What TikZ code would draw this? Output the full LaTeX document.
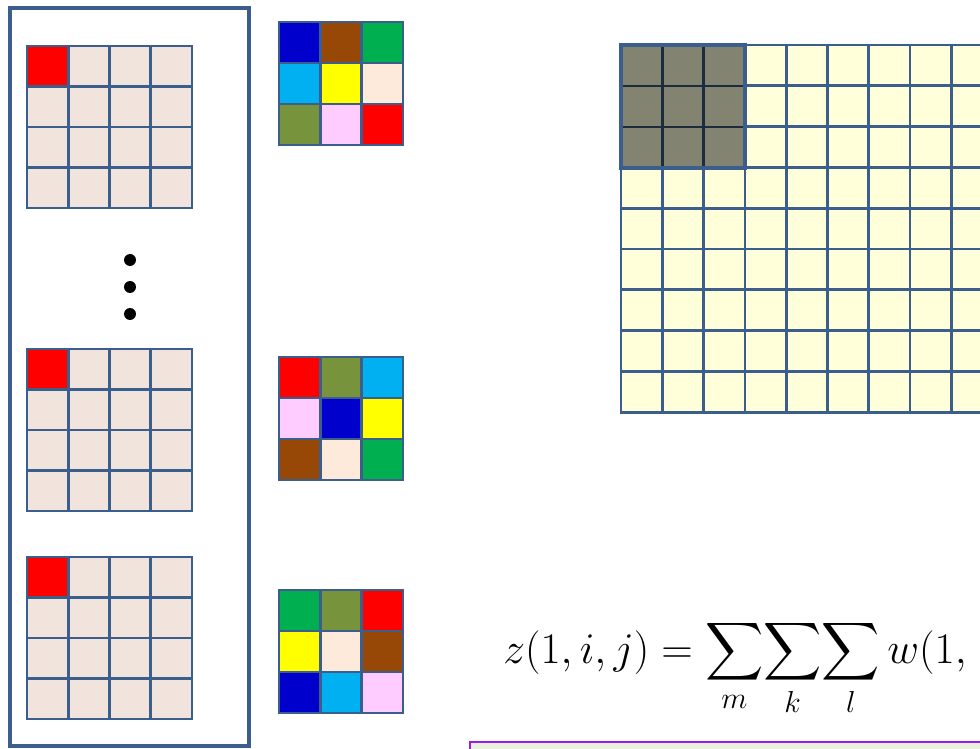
\documentclass[tikz,border=0pt]{standalone}
\usepackage{amsmath,amssymb}
\usetikzlibrary{positioning}
\definecolor{gridblue}{HTML}{3B5E8C}
\definecolor{inbeige}{HTML}{F0E4DC}
\definecolor{mapyellow}{HTML}{FFFFDA}
\definecolor{patchgray}{HTML}{838371}
\definecolor{patchline}{HTML}{1E2B3E}
\definecolor{kblue}{HTML}{0000CC}
\definecolor{kbrown}{HTML}{974806}
\definecolor{kgreen}{HTML}{00B050}
\definecolor{ksky}{HTML}{00B0F0}
\definecolor{kyellow}{HTML}{FFFF00}
\definecolor{kpeach}{HTML}{FDEADA}
\definecolor{kolive}{HTML}{77933C}
\definecolor{kpink}{HTML}{FFCCFF}
\definecolor{kred}{HTML}{FF0000}
\definecolor{boxpurple}{HTML}{9B1AF0}
\definecolor{boxfill}{HTML}{EBF0DE}
% one 4x4 input slice, top-left corner at (#1,#2)
\newcommand{\inslice}[2]{%
  \foreach \r in {0,...,3}
    \foreach \c in {0,...,3}
      \filldraw[incell] (#1+41.25*\c,#2+40.5*\r) rectangle ++(41.25,40.5);
  \filldraw[incell,fill=kred] (#1,#2) rectangle ++(41.25,40.5);
}
% one 3x3 kernel, top-left corner at (#1,#2), colours row by row in #3
\newcommand{\kernel}[3]{%
  \foreach \k [count=\i from 0] in {#3} {
    \pgfmathtruncatemacro\rr{\i/3}
    \pgfmathtruncatemacro\cc{\i-3*\rr}
    \filldraw[kcell,fill=\k] (#1+41.3*\cc,#2+41*\rr) rectangle ++(41.3,41);
  }
}

\begin{document}
\begin{tikzpicture}[
  x=0.02cm,y=-0.02cm,
  frame/.style={draw=gridblue,line width=2.3pt},
  incell/.style={draw=gridblue,fill=inbeige,line width=1.5pt},
  kcell/.style={draw=gridblue,line width=1.5pt},
  mapcell/.style={draw=gridblue,fill=mapyellow,line width=1.5pt},
  dot/.style={circle,fill=black,inner sep=0pt,minimum size=0.24cm}
]
  \useasboundingbox (0,0) rectangle (980,749);
  \clip (0,0) rectangle (980,749);

  % input volume
  \draw[frame] (10,8) rectangle (249,746);
  \inslice{27}{46}
  \inslice{27}{349}
  \inslice{27}{557}
  \node[dot] (d1) at (130,260) {};
  \node[dot] (d2) at (130,287) {};
  \node[dot] (d3) at (130,314) {};

  % kernels
  \kernel{279}{22}{kblue,kbrown,kgreen,ksky,kyellow,kpeach,kolive,kpink,kred}
  \kernel{279}{357}{kred,kolive,ksky,kpink,kblue,kyellow,kbrown,kpeach,kgreen}
  \kernel{279}{590}{kgreen,kolive,kred,kyellow,kpeach,kbrown,kblue,ksky,kpink}

  % output map
  \foreach \r in {0,...,8}
    \foreach \c in {0,...,9}
      \filldraw[mapcell] (621+41.3*\c,45+40.8*\r) rectangle ++(41.3,40.8);
  \fill[patchgray] (621,45) rectangle (745,168);
  \foreach \t in {1,2} {
    \draw[patchline,line width=1.5pt] (621+41.3*\t,45) -- (621+41.3*\t,168);
    \draw[patchline,line width=1.5pt] (621,45+41*\t) -- (745,45+41*\t);
  }
  \draw[frame] (621,45) rectangle (745,168);

  % formula
  \node[anchor=base west,inner sep=0pt] (sum) at (503,663)
    {\fontsize{23}{28}\selectfont$\displaystyle z(1,i,j)=\sum_m\!\sum_k\!\sum_l w(1,$};
  \filldraw[draw=boxpurple,fill=boxfill,line width=1.2pt] (470,742) rectangle (1000,780);
\end{tikzpicture}
\end{document}
